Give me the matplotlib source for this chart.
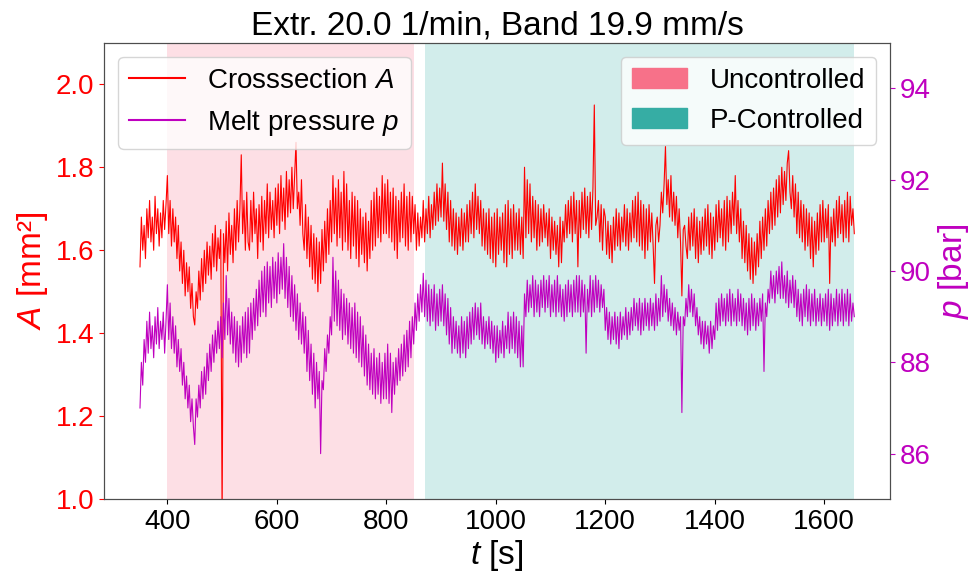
import numpy as np
import matplotlib
matplotlib.use("Agg")
import matplotlib.pyplot as plt
from matplotlib.patches import Patch
from matplotlib.lines import Line2D

plt.rcParams['font.family'] = ['Liberation Sans', 'DejaVu Sans']
plt.rcParams['mathtext.fontset'] = 'custom'
plt.rcParams['mathtext.rm'] = 'Liberation Sans'
plt.rcParams['mathtext.it'] = 'Liberation Sans:italic'

# time axis: 350 s .. 1655 s, every 2.5 s
t = np.arange(350, 1655.1, 2.5)

# cross section A [mm^2] (local highs/lows), 50 s per row
area = [
    1.56, 1.68, 1.60, 1.66, 1.58, 1.70, 1.63, 1.72, 1.62, 1.68, 1.60, 1.73, 1.64, 1.70, 1.61, 1.69, 1.63, 1.72, 1.65, 1.71,
    1.78, 1.64, 1.72, 1.61, 1.70, 1.62, 1.68, 1.58, 1.66, 1.55, 1.62, 1.52, 1.60, 1.49, 1.57, 1.50, 1.56, 1.46, 1.52, 1.44,
    1.42, 1.50, 1.46, 1.55, 1.48, 1.58, 1.50, 1.60, 1.52, 1.62, 1.54, 1.61, 1.53, 1.64, 1.56, 1.66, 1.55, 1.63, 1.58, 1.65,
    0.95, 1.64, 1.57, 1.67, 1.55, 1.69, 1.59, 1.66, 1.57, 1.70, 1.60, 1.72, 1.62, 1.70, 1.83, 1.64, 1.72, 1.60, 1.74, 1.62,
    1.60, 1.72, 1.62, 1.74, 1.64, 1.70, 1.58, 1.71, 1.62, 1.73, 1.60, 1.72, 1.64, 1.76, 1.63, 1.74, 1.65, 1.72, 1.63, 1.75,
    1.66, 1.76, 1.64, 1.78, 1.67, 1.75, 1.65, 1.79, 1.68, 1.77, 1.69, 1.80, 1.70, 1.78, 1.86, 1.70, 1.74, 1.66, 1.77, 1.64,
    1.60, 1.71, 1.58, 1.68, 1.56, 1.66, 1.53, 1.64, 1.52, 1.63, 1.50, 1.62, 1.52, 1.65, 1.55, 1.67, 1.57, 1.70, 1.59, 1.72,
    1.62, 1.78, 1.64, 1.75, 1.61, 1.77, 1.63, 1.74, 1.60, 1.79, 1.62, 1.76, 1.60, 1.72, 1.58, 1.74, 1.61, 1.73, 1.58, 1.72,
    1.56, 1.70, 1.59, 1.68, 1.57, 1.69, 1.55, 1.67, 1.58, 1.72, 1.60, 1.74, 1.61, 1.75, 1.63, 1.73, 1.62, 1.78, 1.64, 1.76,
    1.64, 1.77, 1.63, 1.74, 1.62, 1.75, 1.60, 1.73, 1.58, 1.72, 1.62, 1.74, 1.63, 1.76, 1.61, 1.73, 1.60, 1.74, 1.62, 1.73,
    1.64, 1.71, 1.60, 1.69, 1.61, 1.68, 1.63, 1.72, 1.62, 1.70, 1.64, 1.73, 1.63, 1.71, 1.65, 1.74, 1.66, 1.76, 1.67, 1.75,
    1.68, 1.81, 1.67, 1.76, 1.65, 1.74, 1.62, 1.72, 1.61, 1.70, 1.60, 1.69, 1.59, 1.68, 1.61, 1.70, 1.60, 1.69, 1.62, 1.71,
    1.62, 1.72, 1.64, 1.74, 1.63, 1.76, 1.65, 1.73, 1.64, 1.72, 1.61, 1.70, 1.60, 1.69, 1.59, 1.70, 1.58, 1.68, 1.57, 1.69,
    1.56, 1.70, 1.59, 1.68, 1.60, 1.69, 1.57, 1.71, 1.56, 1.72, 1.59, 1.70, 1.58, 1.71, 1.60, 1.69, 1.60, 1.70, 1.59, 1.68,
    1.58, 1.80, 1.63, 1.77, 1.64, 1.76, 1.62, 1.73, 1.63, 1.72, 1.60, 1.71, 1.61, 1.70, 1.62, 1.71, 1.63, 1.69, 1.61, 1.70,
    1.58, 1.68, 1.60, 1.67, 1.59, 1.66, 1.56, 1.68, 1.57, 1.67, 1.62, 1.71, 1.63, 1.72, 1.64, 1.73, 1.62, 1.74, 1.64, 1.72,
    1.56, 1.72, 1.63, 1.74, 1.65, 1.75, 1.64, 1.73, 1.63, 1.74, 1.65, 1.75, 1.95, 1.66, 1.68, 1.72, 1.62, 1.71, 1.60, 1.70,
    1.68, 1.59, 1.67, 1.58, 1.66, 1.57, 1.68, 1.60, 1.70, 1.61, 1.69, 1.60, 1.68, 1.62, 1.71, 1.61, 1.70, 1.60, 1.69, 1.62,
    1.72, 1.63, 1.73, 1.62, 1.74, 1.61, 1.72, 1.60, 1.71, 1.58, 1.70, 1.60, 1.71, 1.62, 1.69, 1.61, 1.52, 1.66, 1.68, 1.62,
    1.66, 1.74, 1.69, 1.76, 1.85, 1.71, 1.77, 1.68, 1.78, 1.67, 1.74, 1.66, 1.73, 1.63, 1.70, 1.62, 1.49, 1.65, 1.66, 1.61,
    1.58, 1.68, 1.60, 1.69, 1.61, 1.70, 1.58, 1.68, 1.57, 1.67, 1.59, 1.68, 1.60, 1.70, 1.61, 1.71, 1.59, 1.69, 1.58, 1.68,
    1.60, 1.71, 1.62, 1.72, 1.63, 1.70, 1.61, 1.72, 1.60, 1.73, 1.62, 1.72, 1.64, 1.74, 1.66, 1.78, 1.64, 1.72, 1.62, 1.70,
    1.58, 1.67, 1.57, 1.66, 1.55, 1.64, 1.53, 1.63, 1.52, 1.62, 1.54, 1.64, 1.56, 1.67, 1.58, 1.68, 1.60, 1.70, 1.61, 1.72,
    1.64, 1.74, 1.65, 1.75, 1.66, 1.77, 1.68, 1.78, 1.69, 1.80, 1.71, 1.79, 1.72, 1.81, 1.84, 1.74, 1.70, 1.78, 1.68, 1.76,
    1.64, 1.74, 1.63, 1.72, 1.62, 1.71, 1.60, 1.70, 1.61, 1.69, 1.58, 1.68, 1.56, 1.67, 1.59, 1.69, 1.60, 1.71, 1.62, 1.72,
    1.62, 1.70, 1.63, 1.71, 1.52, 1.68, 1.62, 1.70, 1.61, 1.72, 1.63, 1.73, 1.64, 1.71, 1.62, 1.72, 1.63, 1.74, 1.62, 1.73,
    1.66, 1.70, 1.64,
]

# melt pressure p [bar], 50 s per row
pressure = [
    87.0, 88.0, 87.5, 88.5, 88.0, 88.9, 88.2, 89.1, 88.3, 88.8, 88.1, 89.0, 88.4, 89.2, 88.3, 88.9, 88.5, 89.1, 88.2, 88.9,
    89.7, 88.5, 89.3, 88.3, 89.0, 88.2, 88.8, 87.9, 88.5, 87.8, 88.3, 87.5, 88.0, 87.2, 87.7, 87.0, 87.5, 86.7, 87.2, 86.6,
    86.2, 87.2, 86.8, 87.5, 87.0, 87.8, 87.2, 87.9, 87.3, 88.2, 87.6, 88.4, 87.8, 88.6, 88.0, 88.7, 88.2, 88.9, 88.3, 89.0,
    88.1, 89.3, 88.5, 89.9, 88.6, 89.4, 88.4, 89.1, 88.2, 89.0, 88.0, 88.9, 87.9, 88.8, 88.0, 89.0, 88.2, 89.1, 88.1, 89.2,
    88.2, 89.3, 88.5, 89.4, 88.7, 89.6, 88.8, 89.8, 89.0, 90.0, 89.1, 90.1, 89.0, 90.2, 89.3, 90.1, 89.2, 90.3, 89.4, 90.2,
    89.3, 90.4, 89.5, 90.3, 89.6, 90.6, 89.4, 90.3, 89.2, 90.1, 89.0, 89.9, 88.9, 89.7, 88.7, 89.5, 88.5, 89.3, 88.4, 89.1,
    88.2, 89.0, 87.8, 88.7, 87.6, 88.4, 87.3, 88.2, 87.0, 88.0, 87.2, 87.8, 86.0, 87.6, 87.4, 88.3, 87.8, 88.6, 88.2, 89.0,
    88.6, 90.3, 88.9, 90.0, 88.8, 89.8, 88.7, 89.6, 88.5, 89.5, 88.6, 89.4, 88.4, 89.3, 88.3, 89.2, 88.2, 89.3, 88.1, 89.1,
    88.0, 89.0, 87.9, 88.8, 87.7, 88.6, 87.5, 88.4, 87.4, 88.2, 87.3, 88.3, 87.2, 88.1, 87.3, 88.2, 87.1, 88.0, 87.2, 88.2,
    87.2, 88.4, 87.1, 88.2, 86.9, 88.0, 87.3, 88.1, 87.5, 88.3, 87.6, 88.4, 87.7, 88.6, 87.8, 88.7, 87.9, 88.9, 88.1, 89.0,
    88.4, 89.3, 88.7, 89.5, 88.9, 89.7, 89.1, 89.95, 89.0, 89.8, 88.9, 89.7, 88.8, 89.6, 88.9, 89.7, 88.7, 89.5, 88.8, 89.6,
    88.9, 89.7, 88.8, 89.5, 88.6, 89.4, 88.4, 89.2, 88.2, 89.0, 88.3, 88.9, 88.2, 88.8, 88.1, 89.0, 88.2, 88.9, 88.1, 89.0,
    88.3, 89.1, 88.4, 89.2, 88.5, 89.3, 88.6, 89.2, 88.5, 89.3, 88.4, 89.0, 88.3, 88.9, 88.4, 89.0, 88.3, 88.9, 88.2, 88.8,
    88.0, 88.8, 88.1, 88.7, 88.2, 88.9, 88.1, 88.8, 88.3, 89.1, 88.2, 89.0, 88.3, 89.1, 88.2, 89.0, 88.1, 88.9, 87.9, 88.8,
    87.9, 89.5, 89.0, 89.8, 89.1, 89.7, 89.2, 89.9, 89.0, 89.8, 89.1, 89.7, 89.0, 89.8, 89.2, 89.9, 89.1, 89.8, 89.2, 89.9,
    89.0, 89.7, 89.1, 89.8, 89.0, 89.9, 89.1, 89.7, 89.0, 89.6, 88.9, 89.7, 89.0, 89.8, 89.1, 89.7, 89.0, 89.8, 89.1, 89.9,
    89.1, 89.9, 89.0, 89.8, 89.1, 89.7, 88.2, 89.6, 89.1, 89.9, 89.0, 89.8, 89.1, 89.9, 89.2, 89.8, 89.1, 89.7, 89.2, 89.6,
    88.7, 89.2, 88.5, 89.1, 88.4, 89.0, 88.5, 89.1, 88.4, 89.0, 88.3, 89.1, 88.5, 89.0, 88.6, 89.2, 88.5, 89.1, 88.6, 89.2,
    88.7, 89.4, 88.8, 89.3, 88.7, 89.4, 88.6, 89.3, 88.7, 89.4, 88.8, 89.3, 88.7, 89.4, 88.8, 89.3, 88.7, 89.5, 88.8, 89.4,
    88.9, 89.9, 89.0, 89.7, 89.1, 89.6, 88.9, 89.4, 88.8, 89.3, 88.7, 89.2, 88.6, 89.1, 88.7, 89.0, 86.9, 89.0, 88.8, 89.4,
    89.0, 89.7, 89.1, 89.6, 89.0, 89.5, 88.8, 89.2, 88.6, 89.0, 88.4, 88.9, 88.3, 88.9, 88.4, 88.8, 88.2, 88.9, 88.3, 88.8,
    88.5, 89.3, 88.7, 89.4, 88.8, 89.5, 88.9, 89.4, 88.8, 89.5, 88.9, 89.6, 88.8, 89.5, 88.9, 89.4, 88.8, 89.6, 88.9, 89.5,
    88.8, 89.4, 88.7, 89.3, 88.6, 89.4, 88.7, 89.5, 88.8, 89.4, 88.7, 89.3, 88.8, 89.4, 88.9, 89.5, 87.8, 89.3, 89.0, 89.6,
    89.3, 90.0, 89.4, 89.9, 89.3, 90.0, 89.5, 90.1, 89.4, 90.2, 89.4, 89.9, 89.3, 90.0, 89.2, 89.8, 89.3, 89.9, 89.2, 89.8,
    89.0, 89.6, 88.9, 89.5, 88.8, 89.6, 89.0, 89.7, 88.9, 89.6, 88.8, 89.5, 88.9, 89.6, 88.8, 89.4, 88.9, 89.5, 88.8, 89.4,
    88.9, 89.5, 88.8, 89.6, 88.7, 89.5, 88.8, 89.4, 88.9, 89.6, 88.8, 89.5, 88.9, 89.6, 88.8, 89.5, 88.9, 89.6, 88.8, 89.5,
    88.9, 89.3, 89.0,
]

uncontrolled = (400, 850)
p_controlled = (870, 1655)
c_unc = '#f77189'
c_pc = '#36ada4'

fig = plt.figure(figsize=(9.71, 5.72), dpi=100)
ax = fig.add_axes([0.1074, 0.1271, 0.8092, 0.7982])
ax2 = ax.twinx()

ax.axvspan(*uncontrolled, color=c_unc, alpha=0.22, lw=0)
ax.axvspan(*p_controlled, color=c_pc, alpha=0.22, lw=0)

ax.plot(t, area, color='red', lw=0.8)
ax2.plot(t, pressure, color='m', lw=0.8)

ax.set_ylim(1.0, 2.1)
ax2.set_ylim(85, 95)
ax.set_yticks([1.0, 1.2, 1.4, 1.6, 1.8, 2.0])
ax2.set_yticks([86, 88, 90, 92, 94])

ax.set_title('Extr. 20.0 1/min, Band 19.9 mm/s', fontsize=24)
ax.set_xlabel('$t$ [s]', fontsize=24, labelpad=2)
ax.set_ylabel('$A$ [mm²]', fontsize=24, color='red')
ax2.set_ylabel('$p$ [bar]', fontsize=24, color='m')

ax.tick_params(axis='x', labelsize=20)
ax.tick_params(axis='y', labelsize=20, colors='red')
ax2.tick_params(axis='y', labelsize=20, colors='m')
for a in (ax, ax2):
    for s in a.spines.values():
        s.set_color('0.3')

line_handles = [Line2D([], [], color='red', lw=1.5, label='Crosssection $A$'),
                Line2D([], [], color='m', lw=1.5, label='Melt pressure $p$')]
leg1 = ax2.legend(handles=line_handles, loc='upper left', fontsize=20)
ax2.add_artist(leg1)
ax2.legend(handles=[Patch(color=c_unc, label='Uncontrolled'),
                    Patch(color=c_pc, label='P-Controlled')],
           loc='upper right', fontsize=20)

fig.savefig('out.png', dpi=100)
